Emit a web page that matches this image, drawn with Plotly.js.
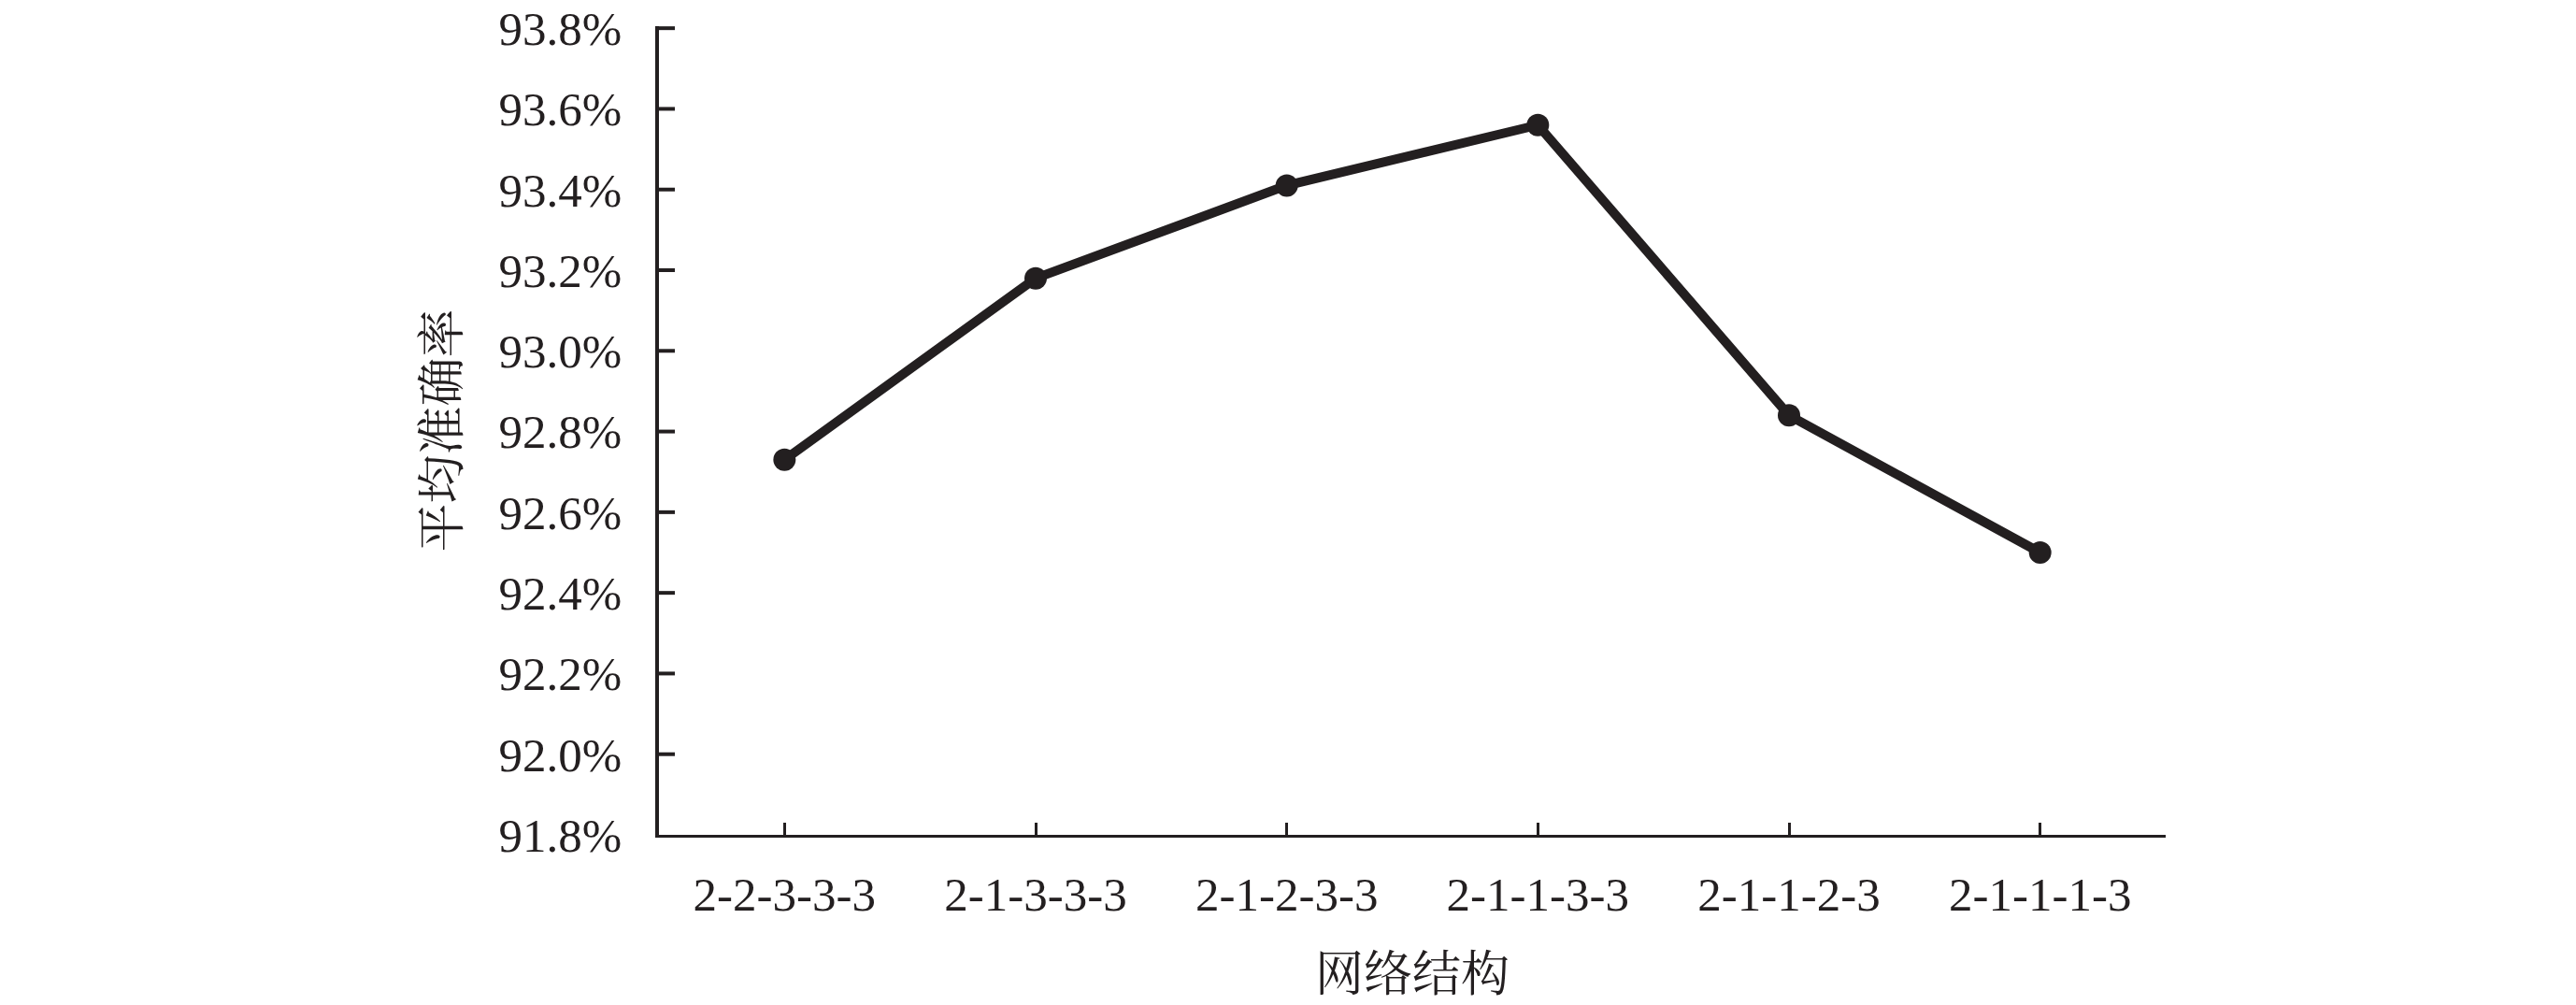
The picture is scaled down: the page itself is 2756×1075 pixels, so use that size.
<!DOCTYPE html>
<html>
<head>
<meta charset="utf-8">
<script src="https://cdn.plot.ly/plotly-3.0.1.min.js"></script>
<style>html,body{margin:0;padding:0;background:#fff;}#chart{width:2756px;height:1075px;}</style>
</head>
<body>
<div id="chart"></div>
<script>
const categories = ["2-2-3-3-3", "2-1-3-3-3", "2-1-2-3-3", "2-1-1-3-3", "2-1-1-2-3", "2-1-1-1-3"];
const accuracy = [92.73, 93.18, 93.41, 93.56, 92.84, 92.50];
const yTickValues = [91.8, 92.0, 92.2, 92.4, 92.6, 92.8, 93.0, 93.2, 93.4, 93.6, 93.8];
const xTitle = "网络结构";
const yTitle = "平均准确率";

const ink = "#231f20";
const serif = "'Liberation Serif', 'Times New Roman', serif";
const cjk = "'Noto Serif CJK SC', 'Noto Sans CJK SC', sans-serif";

const xTickVals = categories.map((c, i) => i).concat([categories.length - 0.5]);
const xTickText = categories.concat([""]);
const pad = "\u00a0\u00a0";

const trace = {
  x: categories,
  y: accuracy,
  type: "scatter",
  mode: "lines+markers",
  line: {color: ink, width: 10},
  marker: {color: ink, size: 24},
  cliponaxis: false,
  hoverinfo: "skip"
};

// short inward tick stubs on the y axis, placed by the y scale
const yTickStubs = yTickValues.slice(1).map(v => ({
  type: "line",
  xref: "paper",
  xsizemode: "pixel",
  xanchor: 0,
  x0: 0,
  x1: 17,
  yref: "y",
  y0: v,
  y1: v,
  line: {color: ink, width: 4},
  layer: "above"
}));

const layout = {
  width: 2756,
  height: 1075,
  paper_bgcolor: "#ffffff",
  plot_bgcolor: "#ffffff",
  showlegend: false,
  margin: {l: 705, r: 439, t: 28, b: 182},
  font: {family: serif, color: ink, size: 50},
  shapes: yTickStubs,
  xaxis: {
    type: "category",
    range: [-0.5, 5.5],
    tickmode: "array",
    tickvals: xTickVals,
    ticktext: xTickText,
    ticks: "inside",
    ticklen: 13,
    tickwidth: 3,
    tickcolor: ink,
    showline: true,
    linecolor: ink,
    linewidth: 3,
    showgrid: false,
    zeroline: false,
    ticklabelstandoff: 17,
    tickfont: {family: serif, size: 51, color: ink},
    title: {text: xTitle, font: {family: cjk, size: 52, color: ink}, standoff: 55},
    fixedrange: true
  },
  yaxis: {
    range: [91.8, 93.805],
    tickmode: "array",
    tickvals: yTickValues,
    ticktext: yTickValues.map(v => v.toFixed(1) + "%" + pad),
    ticks: "",
    showline: true,
    linecolor: ink,
    linewidth: 4,
    showgrid: false,
    zeroline: false,
    tickfont: {family: serif, size: 51, color: ink},
    title: {text: yTitle, font: {family: cjk, size: 52, color: ink}, standoff: 26},
    fixedrange: true
  }
};

Plotly.newPlot("chart", [trace], layout, {staticPlot: true, displayModeBar: false});
</script>
</body>
</html>
